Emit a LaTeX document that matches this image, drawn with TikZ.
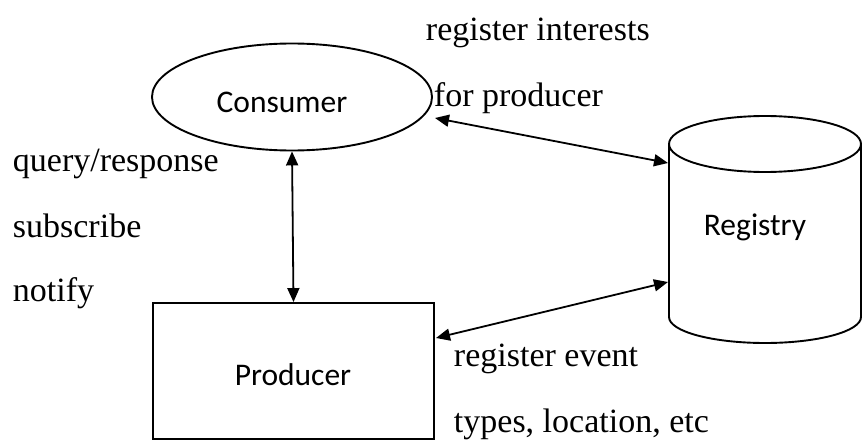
\documentclass[tikz,border=0pt]{standalone}
\usepackage{fontspec}
\setmainfont{Liberation Serif}
\newfontfamily\boxfont{Carlito}
\usetikzlibrary{arrows.meta,shapes.geometric}
\begin{document}
\begin{tikzpicture}[x=1pt,y=-1pt,
  line width=1.9pt,
  note/.style={anchor=base west,inner sep=0pt,font=\fontsize{34}{40}\selectfont},
  boxlabel/.style={inner sep=0pt,font=\boxfont\fontsize{31.5}{36}\selectfont},
  link/.style={{Triangle[length=14pt,width=12pt]}-{Triangle[length=14pt,width=12pt]},line width=1.8pt}]
\useasboundingbox (0,0) rectangle (863,441);

% Consumer ellipse
\node[draw,ellipse,minimum width=280pt,minimum height=107pt,inner sep=0pt] (consumer) at (292,97) {};
\node[boxlabel] (consumerlabel) at (282,102) {Consumer};

% Producer box
\node[draw,rectangle,minimum width=281pt,minimum height=136pt,inner sep=0pt] (producer) at (293.5,371) {};
\node[boxlabel] (producerlabel) at (293,375) {Producer};

% Registry cylinder
\draw (669,144) -- (669,317) arc[start angle=180,end angle=360,x radius=96,y radius=-26] -- (861,144);
\draw (765,144) ellipse[x radius=96,y radius=28];
\node[boxlabel] (registrylabel) at (755,227) {\vphantom{R}Registry};

% connector ends on the cylinder and boxes
\coordinate (consumerE) at (435,118);
\coordinate (regTop) at (668,163);
\coordinate (producerE) at (436,338);
\coordinate (regBottom) at (668,282);

\draw[link] (consumer.south) -- (producer.north);
\draw[link] (consumerE) -- (regTop);
\draw[link] (producerE) -- (regBottom);

% annotations
\node[note] (t1) at (425,41) {register interests};
\node[note] (t2) at (433,107) {for producer};
\node[note] (t3) at (12,172) {query/response};
\node[note] (t4) at (12,237) {subscribe};
\node[note] (t5) at (12,301) {notify};
\node[note] (t6) at (453,366) {register event};
\node[note] (t7) at (453,432) {types, location, etc};
\end{tikzpicture}
\end{document}
